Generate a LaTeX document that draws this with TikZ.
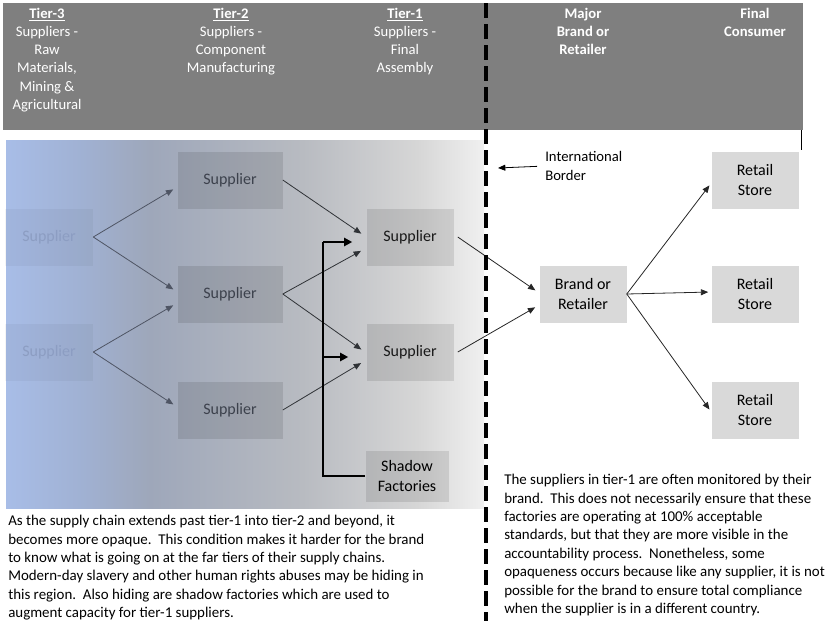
\documentclass[tikz,border=0pt]{standalone}
\usepackage{fontspec}
\setmainfont{Carlito}
\usetikzlibrary{arrows.meta,positioning}

\definecolor{headgray}{HTML}{7F7F7F}
\definecolor{shadeA}{HTML}{A8BDE7}
\definecolor{shadeB}{HTML}{A0B1D3}
\definecolor{shadeC}{HTML}{9EA7BA}
\definecolor{shadeD}{HTML}{B8BBC1}
\definecolor{shadeE}{HTML}{D6D6D6}
\definecolor{shadeF}{HTML}{F0F0F0}
\definecolor{boxgray}{HTML}{D9D9D9}
\definecolor{fadedtext}{HTML}{8C9DC2}
\definecolor{midtext}{HTML}{3C414C}
\definecolor{slate}{HTML}{4F5564}
\definecolor{darklink}{HTML}{2F3236}

\pgfdeclarehorizontalshading{tiershade}{100bp}{color(0bp)=(shadeA); color(25bp)=(shadeA);
  color(33bp)=(shadeB); color(40bp)=(shadeC); color(56bp)=(shadeD); color(68bp)=(shadeE);
  color(75bp)=(shadeF); color(100bp)=(shadeF)}

\tikzset{
  box/.style={rectangle, inner sep=0pt, align=center, font=\fontsize{12}{14.6}\selectfont},
  tierthree/.style={box, minimum width=66pt, minimum height=42.75pt, fill=black,
    fill opacity=0.04, text opacity=1, text=fadedtext},
  tiertwo/.style={box, minimum width=78.75pt, minimum height=42.75pt, fill=black,
    fill opacity=0.1, text opacity=1, text=midtext},
  tierone/.style={box, minimum width=65.25pt, minimum height=42.75pt, fill=black,
    fill opacity=0.1, text opacity=1, text=black!90},
  shadowbox/.style={box, minimum width=62.25pt, minimum height=38.25pt, fill=black,
    fill opacity=0.1, text opacity=1},
  storebox/.style={box, minimum width=65.25pt, minimum height=42.75pt, fill=boxgray},
  headtext/.style={anchor=north, inner sep=0pt, align=center, text=white,
    font=\fontsize{11}{13.6}\selectfont},
  notetext/.style={anchor=north west, inner sep=0pt, align=left,
    font=\fontsize{11.2}{13.8}\selectfont},
  link/.style={-{Triangle[length=5.5pt,width=4.5pt]}, line width=0.6pt, shorten >=3.5pt},
  shadowlink/.style={line width=1.6pt},
  border line/.style={line width=3pt, dash pattern=on 11.25pt off 4.5pt}
}

\begin{document}
\begin{tikzpicture}[x=0.75pt,y=-0.75pt]
\useasboundingbox (0,0) rectangle (830,621);

% header band
\fill[headgray] (3,3) rectangle (803,130);
\draw[line width=0.6pt] (801,130) -- (801,150);
\node[headtext] (h3) at (47,8) {\textbf{\underline{Tier-3}}\\Suppliers -\\Raw\\Materials,\\Mining \&\\Agricultural};
\node[headtext] (h2) at (231,8) {\textbf{\underline{Tier-2}}\\Suppliers -\\Component\\Manufacturing};
\node[headtext] (h1) at (405,8) {\textbf{\underline{Tier-1}}\\Suppliers -\\Final\\Assembly};
\node[headtext, font=\fontsize{11}{13.6}\selectfont\bfseries] (hb) at (583,8) {Major\\Brand or\\Retailer};
\node[headtext, font=\fontsize{11}{13.6}\selectfont\bfseries] (hc) at (755,8) {Final\\Consumer};

% opaque region
\shade[shading=tiershade] (6,140) rectangle (484,508);

% suppliers
\node[tierthree] (t3a) at (49,237) {Supplier};
\node[tierthree] (t3b) at (49,352) {Supplier};
\node[tiertwo] (t2a) at (230,180) {Supplier};
\node[tiertwo] (t2b) at (230,294) {Supplier};
\node[tiertwo] (t2c) at (230,410) {Supplier};
\node[tierone] (t1a) at (410,237) {Supplier};
\node[tierone] (t1b) at (410,352) {Supplier};
\node[shadowbox] (shadow) at (407,476) {Shadow\\Factories};

% brand and stores
\node[storebox] (brand) at (583,294) {Brand or\\Retailer};
\node[storebox] (rs1) at (755,180) {Retail\\Store};
\node[storebox] (rs2) at (755,294) {Retail\\Store};
\node[storebox] (rs3) at (755,410) {Retail\\Store};

% flows
\foreach \a/\b/\d in {t3a/t2a/-5.25, t3a/t2b/1.5, t3b/t2b/-6.75, t3b/t2c/2.25}
  \draw[link, slate] (\a.east) -- ([yshift=\d pt]\b.west);
\foreach \a/\b/\d in {t2a/t1a/0, t2b/t1a/-8.25, t2b/t1b/-0.75, t2c/t1b/-6}
  \draw[link, darklink, shorten >=4.5pt] (\a.east) -- ([yshift=\d pt]\b.west);
\foreach \a/\b/\d in {t1a/brand/0.75, t1b/brand/-8.25}
  \draw[link, black!85] ([xshift=3pt]\a.east) -- ([yshift=\d pt]\b.west);
\foreach \b/\d in {rs1/-2.25, rs2/1.5, rs3/-1.5}
  \draw[link, black!85, shorten >=2.25pt] (brand.east) -- ([yshift=\d pt]\b.west);

% shadow factories feed tier-1
\coordinate (jtop) at (323,242);
\coordinate (jmid) at (323,357);
\draw[shadowlink] (shadow.west) -| (jtop);
\draw[shadowlink, -{Triangle[length=6pt,width=6pt]}, shorten >=10.5pt] (jtop) -- (t1a.west |- jtop);
\draw[shadowlink, -{Triangle[length=6pt,width=6pt]}, shorten >=13.5pt] (jmid) -- (t1b.west |- jmid);

% international border
\draw[border line] (486,3) -- (486,621);
\node[notetext, anchor=west, font=\fontsize{11}{13.8}\selectfont] (border) at (545,166) {International\\Border};
\coordinate (borderpt) at (498,168);
\draw[link, shorten >=0pt, shorten <=6pt] (border.west) -- (borderpt);

% notes
\node[notetext] (leftnote) at (8,515) {As the supply chain extends past tier-1 into tier-2 and beyond, it\\
becomes more opaque.\ \ This condition makes it harder for the brand\\
to know what is going on at the far tiers of their supply chains.\\
Modern-day slavery and other human rights abuses may be hiding in\\
this region.\ \ Also hiding are shadow factories which are used to\\
augment capacity for tier-1 suppliers.};
\node[notetext] (rightnote) at (504,474) {The suppliers in tier-1 are often monitored by their\\
brand.\ \ This does not necessarily ensure that these\\
factories are operating at 100\% acceptable\\
standards, but that they are more visible in the\\
accountability process.\ \ Nonetheless, some\\
opaqueness occurs because like any supplier, it is not\\
possible for the brand to ensure total compliance\\
when the supplier is in a different country.};
\end{tikzpicture}
\end{document}
